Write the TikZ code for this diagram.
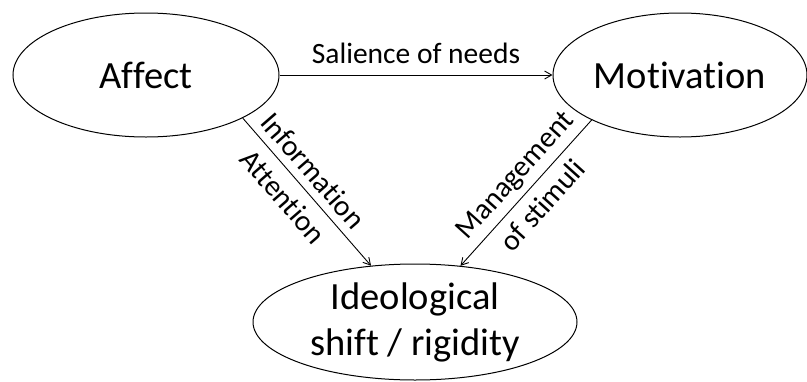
\documentclass[tikz,border=0pt]{standalone}
\usepackage{fontspec}
\setmainfont{Carlito}[Ligatures=NoCommon]
\usetikzlibrary{shapes.geometric,arrows.meta}
\begin{document}
\begin{tikzpicture}[x=1pt,y=-1pt,
  concept/.style={ellipse,draw,line width=1pt,inner sep=0pt,align=center,
    font=\fontsize{38.5}{46}\selectfont},
  link/.style={line width=0.9pt,-{Straight Barb[length=7pt,width=8pt]}},
  tag/.style={font=\fontsize{29.5}{34}\selectfont,inner sep=2pt}]
\useasboundingbox (0,0) rectangle (807,381);

% the three concepts
\node[concept,minimum width=266pt,minimum height=124pt] (affect) at (146,75) {Affect};
\node[concept,minimum width=254pt,minimum height=124pt] (motiv) at (680,75) {Motivation};
\node[concept,minimum width=324pt,minimum height=116pt] (ideo) at (415,322)
  {Ideological\\shift / rigidity};

% influences between them
\draw[link] (affect) -- node[tag,above=9pt] {Salience of needs} (motiv);
\draw[link] (affect.-24.4) -- node[tag,sloped,above=6pt,pos=0.44] {Information}
  node[tag,sloped,below=8pt,pos=0.44] {Attention} (ideo.128.7);
\draw[link] (motiv.-153.4) -- node[tag,sloped,above=4pt,pos=0.47] {Management}
  node[tag,sloped,below=7pt,pos=0.49] {of stimuli} (ideo.51.9);
\end{tikzpicture}
\end{document}
